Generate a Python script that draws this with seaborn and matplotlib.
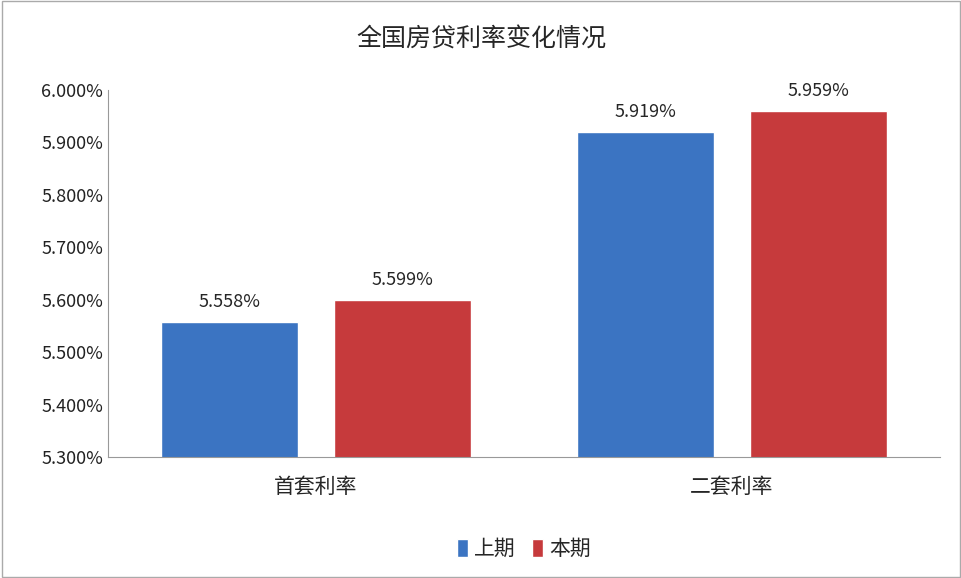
import matplotlib
matplotlib.use("Agg")
import matplotlib.pyplot as plt
import seaborn as sns
import pandas as pd
from matplotlib.ticker import FuncFormatter

categories = ['首套利率', '二套利率']
prev_rates = [5.558, 5.919]
curr_rates = [5.599, 5.959]
series = ['上期', '本期']

df = pd.DataFrame({
    'cat': categories * 2,
    'rate': prev_rates + curr_rates,
    'period': [series[0]] * 2 + [series[1]] * 2,
})

sns.set_style('white')
plt.rcParams['font.family'] = ['Noto Sans CJK SC', 'DejaVu Sans']

fig = plt.figure(figsize=(9.62, 5.78), dpi=100)
ax = fig.add_axes([108 / 962, 1 - 457 / 578, 832 / 962, 367 / 578])
sns.barplot(data=df, x='cat', y='rate', hue='period', ax=ax,
            palette=['#3b74c2', '#c63a3c'], width=0.83, gap=0.21,
            saturation=1, legend=True)
ax.set_ylim(5.3, 6.0)
ax.set_yticks([5.3 + 0.1 * i for i in range(8)])
ax.yaxis.set_major_formatter(FuncFormatter(lambda v, p: f'{v:.3f}%'))
ax.tick_params(axis='y', labelsize=13, colors='#222222', length=0)
ax.tick_params(axis='x', labelsize=15, length=0, pad=14)
ax.set_xlabel('')
ax.set_ylabel('')
for s in ['top', 'right']:
    ax.spines[s].set_visible(False)
for s in ['left', 'bottom']:
    ax.spines[s].set_color('#999999')

for cont in ax.containers:
    ax.bar_label(cont, labels=[f'{v:.3f}%' for v in cont.datavalues],
                 padding=8, fontsize=13)

ax.legend(loc='upper center', bbox_to_anchor=(0.5, -0.17), ncol=2,
          frameon=False, fontsize=15, handlelength=0.5, handleheight=0.9,
          handletextpad=0.3, columnspacing=0.8)

fig.text(0.5, 1 - 40 / 578, '全国房贷利率变化情况', ha='center', va='center', fontsize=18)
fig.patches.append(plt.Rectangle((0.002, 0.002), 0.996, 0.996, transform=fig.transFigure,
                                 fill=False, edgecolor='#aaaaaa', lw=1))
fig.savefig('out.png', dpi=100)
